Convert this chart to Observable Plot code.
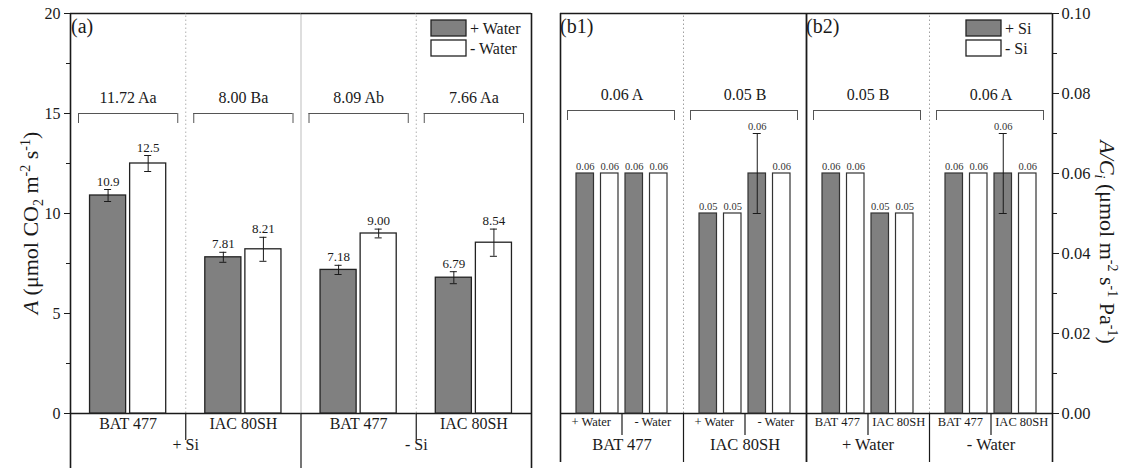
<!DOCTYPE html>
<html><head><meta charset="utf-8">
<script src="https://cdn.jsdelivr.net/npm/d3@7"></script>
<script src="https://cdn.jsdelivr.net/npm/@observablehq/plot@0.6"></script>
<style>
html,body{margin:0;padding:0;background:#fff;}
#wrap{position:relative;width:1125px;height:468px;overflow:hidden;}
#wrap svg{position:absolute;top:0;overflow:visible;}
#wrap svg, #wrap svg text, #wrap svg tspan{font-family:"Liberation Serif","Times New Roman",serif !important;}
</style></head><body><div id="wrap"></div>
<script>
// ---------- data ----------
const genotypes = ["BAT 477", "IAC 80SH"];
const waterLevels = ["+ Water", "- Water"];
const siLevels = ["+ Si", "- Si"];

// Panel (a): A, ordered Si > genotype > water
const aValues = [10.9, 12.5, 7.81, 8.21, 7.18, 9.00, 6.79, 8.54];
const aErrors = [0.3, 0.4, 0.25, 0.6, 0.23, 0.22, 0.3, 0.68];
const aLabels = ["10.9", "12.5", "7.81", "8.21", "7.18", "9.00", "6.79", "8.54"];
const aGroupLabels = ["11.72 Aa", "8.00 Ba", "8.09 Ab", "7.66 Aa"];
const aTicks = [0, 5, 10, 15, 20];
const aMinorTicks = [2.5, 7.5, 12.5, 17.5];

// Panel (b): A/Ci, ordered genotype > water > Si
const bValues = [0.06, 0.06, 0.06, 0.06, 0.05, 0.05, 0.06, 0.06];
const bErrors = [0, 0, 0, 0, 0, 0, 0.01, 0];
const bLabels = ["0.06", "0.06", "0.06", "0.06", "0.05", "0.05", "0.06", "0.06"];
const b1GroupLabels = ["0.06 A", "0.05 B"];
const b2GroupLabels = ["0.05 B", "0.06 A"];
const bTicks = [0, 0.02, 0.04, 0.06, 0.08, 0.10];
const bMinorTicks = [0.01, 0.03, 0.05, 0.07, 0.09];

// ---------- style ----------
const ink = "#1a1a1a";
const barStroke = "#222";
const darkFill = "#808080";
const bracketStroke = "#555";
const font = '"Liberation Serif", "Times New Roman", serif';

// ---------- panel (a) ----------
const aData = [];
siLevels.forEach((si, i) => genotypes.forEach((g, j) => waterLevels.forEach((w, k) => {
  const n = i * 4 + j * 2 + k;
  aData.push({group: si + "|" + g, si, genotype: g, water: w, value: aValues[n], err: aErrors[n], label: aLabels[n]});
})));
const aGroups = [];
siLevels.forEach((si, i) => genotypes.forEach((g, j) =>
  aGroups.push({key: si + "|" + g, si, genotype: g, label: aGroupLabels[i * 2 + j], first: j === 0, idx: i * 2 + j})));

const AW = 545, AH = 468, AML = 70, AMR = 14, AMT = 13, AMB = 55;
const aFW = (AW - AML - AMR) / aGroups.length;
const aBelow = -2.75, aBelowShort = -1.35;

const plotA = Plot.plot({
  width: AW, height: AH, marginLeft: AML, marginRight: AMR, marginTop: AMT, marginBottom: AMB,
  style: {fontFamily: font, fontSize: "16px", color: ink, background: "transparent", overflow: "visible"},
  fx: {domain: aGroups.map(d => d.key), paddingInner: 0, paddingOuter: 0, axis: null, round: false, label: null},
  x: {domain: waterLevels, paddingInner: 0.1, paddingOuter: 0.4875, axis: null, round: false, label: null},
  y: {domain: [0, 20], label: null},
  color: {domain: waterLevels, range: [darkFill, "#ffffff"]},
  marks: [
    Plot.ruleX(aGroups.filter(d => d.idx > 0 && !d.first), {fx: "key", x: null, y1: 0, y2: 20, dx: -aFW / 2, stroke: "#b0b0b0", strokeDasharray: "1.5,2.5"}),
    Plot.ruleX(aGroups.filter(d => d.idx > 0 && d.first), {fx: "key", x: null, y1: 0, y2: 20, dx: -aFW / 2, stroke: "#bdbdbd"}),
    Plot.ruleX(aGroups.filter(d => d.idx > 0), {fx: "key", x: null, y1: 0, y2: d => d.first ? aBelow : aBelowShort, dx: -aFW / 2, stroke: ink, strokeWidth: 1.2}),
    Plot.ruleY([20], {stroke: ink, strokeWidth: 1.6}),
    Plot.ruleY([0], {stroke: ink, strokeWidth: 1.6}),
    Plot.ruleX(aGroups.slice(0, 1), {fx: "key", x: null, y1: aBelow, y2: 20, dx: -aFW / 2, stroke: ink, strokeWidth: 1.6}),
    Plot.ruleX(aGroups.slice(-1), {fx: "key", x: null, y1: aBelow, y2: 20, dx: aFW / 2, stroke: ink, strokeWidth: 1.6}),
    Plot.axisY({ticks: aTicks, anchor: "left", tickSize: 6, tickPadding: 4, fontSize: 16, label: null}),
    Plot.axisY({ticks: aMinorTicks, anchor: "left", tickSize: 4, tickFormat: () => "", label: null}),
    Plot.barY(aData, {fx: "group", x: "water", y: "value", fill: "water", stroke: barStroke, strokeWidth: 1.3}),
    Plot.ruleX(aData, {fx: "group", x: "water", y1: d => d.value - d.err, y2: d => d.value + d.err, stroke: ink, strokeWidth: 1}),
    Plot.tickY(aData, {fx: "group", x: "water", y: d => d.value + d.err, insetLeft: 14.5, insetRight: 14.5, stroke: ink, strokeWidth: 1}),
    Plot.tickY(aData, {fx: "group", x: "water", y: d => d.value - d.err, insetLeft: 14.5, insetRight: 14.5, stroke: ink, strokeWidth: 1}),
    Plot.text(aData, {fx: "group", x: "water", y: d => d.value + d.err, dy: -8, text: "label", fontSize: 13, fill: ink}),
    Plot.ruleY(aGroups, {fx: "key", y: () => 15, insetLeft: 8, insetRight: 8, stroke: bracketStroke}),
    Plot.ruleX(aGroups, {fx: "key", x: null, y1: () => 14.5, y2: () => 15, dx: -aFW / 2 + 8, stroke: bracketStroke}),
    Plot.ruleX(aGroups, {fx: "key", x: null, y1: () => 14.5, y2: () => 15, dx: aFW / 2 - 8, stroke: bracketStroke}),
    Plot.text(aGroups, {fx: "key", y: () => 15, dy: -16, text: "label", fontSize: 16, fill: ink}),
    Plot.text(aGroups, {fx: "key", frameAnchor: "bottom", dy: 15, text: "genotype", fontSize: 16, fill: ink}),
    Plot.text(aGroups.filter(d => d.first), {fx: "key", frameAnchor: "bottom", dx: aFW / 2, dy: 36, text: "si", fontSize: 16, fill: ink})
  ]
});

// ---------- panel (b) ----------
const bData = [];
genotypes.forEach((g, i) => waterLevels.forEach((w, j) => siLevels.forEach((s, k) => {
  const n = i * 4 + j * 2 + k;
  const rec = {genotype: g, water: w, si: s, value: bValues[n], err: bErrors[n], label: bLabels[n]};
  bData.push({...rec, group: "b1|" + g, slot: String(j * 2 + k)});
  bData.push({...rec, group: "b2|" + w, slot: String(i * 2 + k)});
})));
const bGroups = [
  ...genotypes.map((g, i) => ({key: "b1|" + g, name: g, label: b1GroupLabels[i], subs: waterLevels, idx: i})),
  ...waterLevels.map((w, i) => ({key: "b2|" + w, name: w, label: b2GroupLabels[i], subs: genotypes, idx: 2 + i}))
];
const bSubs = bGroups.flatMap(g => g.subs.map((s, i) => ({key: g.key, name: s, side: i})));

const BW = 580, BH = 468, BML = 15, BMR = 73, BMT = 13, BMB = 55;
const bFW = (BW - BML - BMR) / bGroups.length;
const bBelow = -0.01225, bBelowShort = -0.0055;
const bBracket = 0.07575, bBracketTick = 0.07325;

const plotB = Plot.plot({
  width: BW, height: BH, marginLeft: BML, marginRight: BMR, marginTop: BMT, marginBottom: BMB,
  style: {fontFamily: font, fontSize: "16px", color: ink, background: "transparent", overflow: "visible"},
  fx: {domain: bGroups.map(d => d.key), paddingInner: 0, paddingOuter: 0, axis: null, round: false, label: null},
  x: {domain: ["0", "1", "2", "3"], paddingInner: 0.286, paddingOuter: 0.653, axis: null, round: false, label: null},
  y: {domain: [0, 0.1], label: null},
  color: {domain: siLevels, range: [darkFill, "#ffffff"]},
  marks: [
    Plot.ruleX(bGroups.filter(d => d.idx === 1 || d.idx === 3), {fx: "key", x: null, y1: 0, y2: 0.1, dx: -bFW / 2, stroke: "#a0a0a0", strokeDasharray: "1.5,2.5"}),
    Plot.ruleX(bGroups.filter(d => d.idx === 1 || d.idx === 3), {fx: "key", x: null, y1: bBelow, y2: 0, dx: -bFW / 2, stroke: ink, strokeWidth: 1.2}),
    Plot.ruleX(bGroups.filter(d => d.idx === 2), {fx: "key", x: null, y1: bBelow, y2: 0.1, dx: -bFW / 2, stroke: ink, strokeWidth: 1.8}),
    Plot.ruleX(bGroups, {fx: "key", x: null, y1: bBelowShort, y2: 0, stroke: ink, strokeWidth: 1.2}),
    Plot.ruleY([0.1], {stroke: ink, strokeWidth: 1.6}),
    Plot.ruleY([0], {stroke: ink, strokeWidth: 1.6}),
    Plot.ruleX(bGroups.slice(0, 1), {fx: "key", x: null, y1: bBelow, y2: 0.1, dx: -bFW / 2, stroke: ink, strokeWidth: 1.6}),
    Plot.ruleX(bGroups.slice(-1), {fx: "key", x: null, y1: bBelow, y2: 0.1, dx: bFW / 2, stroke: ink, strokeWidth: 1.6}),
    Plot.axisY({ticks: bTicks, anchor: "right", tickSize: 6, tickPadding: 3, fontSize: 16.5, tickFormat: d3.format(".2f"), label: null}),
    Plot.axisY({ticks: bMinorTicks, anchor: "right", tickSize: 4, tickFormat: () => "", label: null}),
    Plot.barY(bData, {fx: "group", x: "slot", y: "value", fill: "si", stroke: "#333", strokeWidth: 1.2}),
    Plot.ruleX(bData.filter(d => d.err > 0), {fx: "group", x: "slot", y1: d => d.value - d.err, y2: d => d.value + d.err, stroke: ink, strokeWidth: 1}),
    Plot.tickY(bData.filter(d => d.err > 0), {fx: "group", x: "slot", y: d => d.value + d.err, insetLeft: 4.75, insetRight: 4.75, stroke: ink}),
    Plot.tickY(bData.filter(d => d.err > 0), {fx: "group", x: "slot", y: d => d.value - d.err, insetLeft: 4.75, insetRight: 4.75, stroke: ink}),
    Plot.text(bData, {fx: "group", x: "slot", y: d => d.value + d.err, dy: -6.5, text: "label", fontSize: 10.5, fill: "#333"}),
    Plot.ruleY(bGroups, {fx: "key", y: () => bBracket, insetLeft: 7, insetRight: 9, stroke: bracketStroke}),
    Plot.ruleX(bGroups, {fx: "key", x: null, y1: () => bBracketTick, y2: () => bBracket, dx: -bFW / 2 + 7, stroke: bracketStroke}),
    Plot.ruleX(bGroups, {fx: "key", x: null, y1: () => bBracketTick, y2: () => bBracket, dx: bFW / 2 - 9, stroke: bracketStroke}),
    Plot.text(bGroups, {fx: "key", y: () => bBracket, dy: -16, text: "label", fontSize: 16, fill: ink}),
    Plot.text(bSubs.filter(d => d.side === 0), {fx: "key", frameAnchor: "bottom", dx: -bFW / 4, dy: 12, text: "name", fontSize: 12.5, fill: ink}),
    Plot.text(bSubs.filter(d => d.side === 1), {fx: "key", frameAnchor: "bottom", dx: bFW / 4, dy: 12, text: "name", fontSize: 12.5, fill: ink}),
    Plot.text(bGroups, {fx: "key", frameAnchor: "bottom", dy: 36, text: "name", fontSize: 16.5, fill: ink})
  ]
});

const wrap = document.getElementById("wrap");
plotA.style.left = "0px";
plotB.style.left = AW + "px";
wrap.appendChild(plotA);
wrap.appendChild(plotB);

// ---------- annotations: panel labels, axis titles, legends ----------
function legend(svg, x, y, items) {
  items.forEach((it, i) => {
    svg.append("rect").attr("x", x).attr("y", y + i * 20).attr("width", 35).attr("height", 16)
      .attr("fill", it.fill).attr("stroke", barStroke).attr("stroke-width", 1.3);
    svg.append("text").attr("x", x + 39).attr("y", y + i * 20 + 8).attr("dy", "0.35em").attr("text-anchor", "start")
      .attr("font-size", 16).attr("fill", ink).text(it.name);
  });
}
function label(svg, x, txt) {
  svg.append("text").attr("x", x).attr("y", 33).attr("text-anchor", "start")
    .attr("font-size", 20).attr("fill", ink).text(txt);
}
const TS = 22, SS = 14;
const sa = d3.select(plotA);
label(sa, 71, "(a)");
legend(sa, 431, 20, [{name: waterLevels[0], fill: darkFill}, {name: waterLevels[1], fill: "#fff"}]);
{
  const t = sa.append("text").attr("transform", "translate(38,223) rotate(-90)").attr("text-anchor", "middle")
    .attr("font-size", TS).attr("fill", ink);
  t.append("tspan").attr("font-style", "italic").text("A");
  t.append("tspan").text(" (μmol CO");
  t.append("tspan").attr("font-size", SS).attr("dy", 5).text("2");
  t.append("tspan").attr("dy", -5).text(" m");
  t.append("tspan").attr("font-size", SS).attr("dy", -8).text("-2");
  t.append("tspan").attr("dy", 8).text(" s");
  t.append("tspan").attr("font-size", SS).attr("dy", -8).text("-1");
  t.append("tspan").attr("dy", 8).text(")");
}
const sb = d3.select(plotB);
label(sb, 15, "(b1)");
label(sb, 15 + 2 * bFW, "(b2)");
legend(sb, 421, 20, [{name: siLevels[0], fill: darkFill}, {name: siLevels[1], fill: "#fff"}]);
{
  const t = sb.append("text").attr("transform", "translate(555,242) rotate(90)").attr("text-anchor", "middle")
    .attr("font-size", TS).attr("fill", ink);
  t.append("tspan").attr("font-style", "italic").text("A/C");
  t.append("tspan").attr("font-style", "italic").attr("font-size", SS).attr("dy", 5).text("i");
  t.append("tspan").attr("dy", -5).text(" (μmol m");
  t.append("tspan").attr("font-size", SS).attr("dy", -8).text("-2");
  t.append("tspan").attr("dy", 8).text(" s");
  t.append("tspan").attr("font-size", SS).attr("dy", -8).text("-1");
  t.append("tspan").attr("dy", 8).text(" Pa");
  t.append("tspan").attr("font-size", SS).attr("dy", -8).text("-1");
  t.append("tspan").attr("dy", 8).text(")");
}
</script></body></html>
